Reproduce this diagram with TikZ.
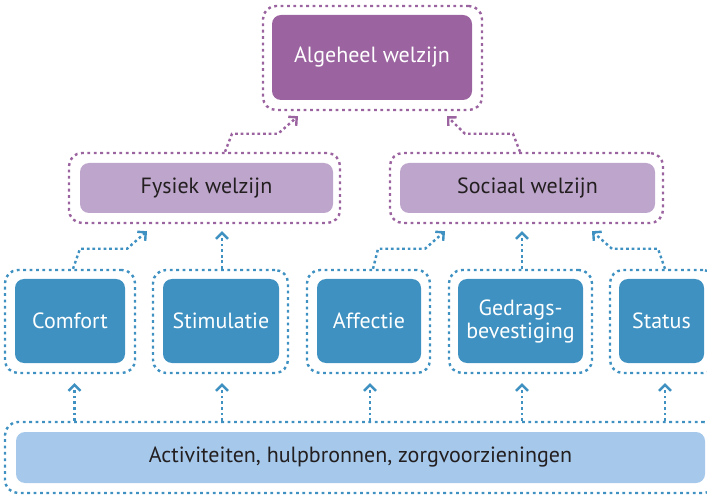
\documentclass[tikz,border=0pt]{standalone}
\usepackage{fontspec}
\setmainfont{PT Sans}
\usetikzlibrary{arrows.meta,calc}

\definecolor{plumdark}{HTML}{9B64A0}
\definecolor{plumlight}{HTML}{BEA5CC}
\definecolor{seablue}{HTML}{3E91C1}
\definecolor{skyblue}{HTML}{A5C8EB}
\definecolor{inkdark}{HTML}{231F20}

\tikzset{
  box/.style={rectangle, rounded corners=9pt, inner sep=0pt, align=center,
    font=\fontsize{22}{23}\selectfont},
  darkplum/.style={box, fill=plumdark, text=white},
  lightplum/.style={box, fill=plumlight, text=inkdark},
  bluebox/.style={box, fill=seablue, text=white},
  barbox/.style={box, fill=skyblue, text=inkdark},
  frame/.style={rectangle, draw, line width=2.4pt, dash pattern=on 2.8pt off 3.6pt,
    rounded corners=13pt, inner sep=0pt},
  plumframe/.style={frame, draw=plumdark},
  blueframe/.style={frame, draw=seablue},
  link/.style={line width=2.4pt, dash pattern=on 2.7pt off 2.9pt,
    -{Straight Barb[length=6pt, width=12pt, line width=2.4pt]}},
  plumlink/.style={link, draw=plumdark},
  bluelink/.style={link, draw=seablue},
}

\begin{document}
\begin{tikzpicture}[x=1pt, y=1pt]
\useasboundingbox (0,0) rectangle (707,496);

% top level
\node[plumframe, minimum width=219pt, minimum height=104pt] (algO) at (372.5,438) {};
\node[darkplum, minimum width=200pt, minimum height=85pt] (alg) at (372,438.5) {Algeheel welzijn};

% middle level
\node[plumframe, minimum width=271pt, minimum height=70pt] (fysO) at (204.5,308) {};
\node[lightplum, minimum width=253pt, minimum height=50pt] (fys) at (206.5,308) {Fysiek welzijn};
\node[plumframe, minimum width=273pt, minimum height=70pt] (socO) at (526.5,308) {};
\node[lightplum, minimum width=255pt, minimum height=50pt] (soc) at (527.5,308) {Sociaal welzijn};

% needs
\node[blueframe, minimum width=130pt, minimum height=103pt] (comfortO) at (70,174.5) {};
\node[bluebox, minimum width=110pt, minimum height=84pt] (comfort) at (70,175) {Comfort};
\node[blueframe, minimum width=135pt, minimum height=103pt] (stimO) at (220.5,174.5) {};
\node[bluebox, minimum width=116pt, minimum height=84pt] (stim) at (221,175) {Stimulatie};
\node[blueframe, minimum width=123pt, minimum height=103pt] (affO) at (368.5,174.5) {};
\node[bluebox, minimum width=104pt, minimum height=84pt] (aff) at (369,175) {Affectie};
\node[blueframe, minimum width=143pt, minimum height=103pt] (gedO) at (520.5,174.5) {};
\node[bluebox, minimum width=125pt, minimum height=84pt] (ged) at (520.5,175) {Gedrags-\\bevestiging};
\node[blueframe, minimum width=106pt, minimum height=103pt] (statusO) at (663,174.5) {};
\node[bluebox, minimum width=85pt, minimum height=84pt] (status) at (661.5,175) {Status};

% resources
\node[blueframe, minimum width=712pt, minimum height=71pt] (barO) at (361,38.5) {};
\node[barbox, minimum width=689pt, minimum height=51pt] (bar) at (360.5,38.5) {Activiteiten, hulpbronnen, zorgvoorzieningen};

% resources -> needs
\draw[bluelink] ($(comfortO.south |- barO.north)+(4.5,0)$) -- ($(comfortO.south)+(4.5,-9)$);
\draw[bluelink] ($(stimO.south |- barO.north)+(1.5,0)$) -- ($(stimO.south)+(1.5,-9)$);
\draw[bluelink] ($(affO.south |- barO.north)+(1.5,0)$) -- ($(affO.south)+(1.5,-9)$);
\draw[bluelink] ($(gedO.south |- barO.north)+(1.5,0)$) -- ($(gedO.south)+(1.5,-9)$);
\draw[bluelink] ($(statusO.south |- barO.north)+(2,0)$) -- ($(statusO.south)+(2,-9)$);

% needs -> wellbeing domains
\draw[bluelink] ($(comfortO.north)+(3,0)$) -- ++(7,20) -- ++(47,0) -- ($(fysO.south)+(-57.5,-7)$);
\draw[bluelink] ($(stimO.north)+(1.5,0)$) -- ($(stimO.north |- fysO.south)+(1.5,-7)$);
\draw[bluelink] ($(affO.north)+(4.5,0)$) -- ++(5,20) -- ++(47,0) -- ($(socO.south)+(-81.5,-7)$);
\draw[bluelink] ($(gedO.north)+(1.5,0)$) -- ($(gedO.north |- socO.south)+(1.5,-7)$);
\draw[bluelink] ($(statusO.north)+(2,0)$) -- ++(-7,20) -- ++(-46,0) -- ($(socO.south)+(65.5,-7)$);

% domains -> overall wellbeing
\draw[plumlink] ($(fysO.north)+(20.5,0)$) -- ++(7,18) -- ++(46,0) -- ($(algO.south)+(-74.5,-5)$);
\draw[plumlink] ($(socO.north)+(-6.5,0)$) -- ++(-7,18) -- ++(-48,0) -- ($(algO.south)+(74.5,-5)$);
\end{tikzpicture}
\end{document}
